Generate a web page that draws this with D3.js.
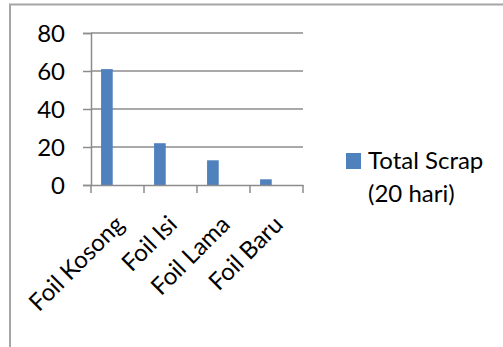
<!DOCTYPE html>
<meta charset="utf-8">
<style>
body{
	margin:0;
	background:#fff;
}
svg text{
	font-family:Lato, "Open Sans", sans-serif;
	fill:#000;
}
</style>
<script src="https://cdn.jsdelivr.net/npm/d3@7"></script>
<div id="chart"></div>

<script>

var categories = ["Foil Kosong","Foil Isi","Foil Lama","Foil Baru"]
var scrapValues = [61,22,13,3]
var yTicks = [0,20,40,60,80]
var seriesName = ["Total Scrap","(20 hari)"]

var W = 503, H = 347
var fs = "24px"
var svg = d3.select("#chart").append("svg").attr("width",W).attr("height",H)

// frame, cut off at right and bottom like the screenshot
svg.append("path")
	.attr("d","M10,"+(H+2)+" V4.5 H"+(W+2))
	.attr("fill","none").attr("stroke","#a6a6a6").attr("stroke-width",2)

var x = d3.scaleBand().domain(categories).range([91,303])
var y = d3.scaleLinear().domain([0,80]).range([185,33])

var grid = "#8c8c8c"

// gridlines + y ticks
var yAxis = d3.axisLeft(y).tickValues(yTicks).tickSize(8).tickPadding(18)
var gy = svg.append("g").attr("transform","translate(91,0)").call(yAxis)
gy.select(".domain").attr("stroke",grid).attr("stroke-width",1.5)
gy.selectAll(".tick line").attr("stroke",grid).attr("stroke-width",1.5)
gy.selectAll(".tick text").attr("font-size",fs).attr("fill","#000")
	.style("font-family","Lato").attr("dy","0.36em")

svg.append("g").selectAll("line").data(yTicks.filter(function(d){return d>0}))
	.enter().append("line")
	.attr("x1",91).attr("x2",303)
	.attr("y1",function(d){return y(d)}).attr("y2",function(d){return y(d)})
	.attr("stroke",grid).attr("stroke-width",1.5)

// bars (first slot of a clustered group)
var bw = x.bandwidth()
svg.append("g").selectAll("rect").data(scrapValues).enter().append("rect")
	.attr("x",function(d,i){return x(categories[i])+bw*0.19})
	.attr("width",bw*0.22)
	.attr("y",function(d){return y(d)})
	.attr("height",function(d){return y(0)-y(d)})
	.attr("fill","#4f81bd")

// x axis
var xAxis = d3.axisBottom(x).tickSize(0).tickFormat("")
var gx = svg.append("g").attr("transform","translate(0,185)").call(xAxis)
gx.select(".domain").attr("stroke",grid).attr("stroke-width",1.5)
var edges = categories.map(function(c){return x(c)}).concat([303])
gx.selectAll(".edge").data(edges).enter().append("line")
	.attr("x1",function(d){return d}).attr("x2",function(d){return d})
	.attr("y1",0).attr("y2",8).attr("stroke",grid).attr("stroke-width",1.5)

svg.append("g").selectAll("text").data(categories).enter().append("text")
	.attr("transform",function(c){return "translate("+(x(c)+bw/2+8)+",226) rotate(-45)"})
	.attr("text-anchor","end")
	.attr("font-size",fs)
	.text(function(c){return c})

// legend
svg.append("rect").attr("x",346).attr("y",153).attr("width",15).attr("height",16).attr("fill","#4f81bd")
svg.append("g").selectAll("text").data(seriesName).enter().append("text")
	.attr("x",368).attr("y",function(d,i){return 169+i*33})
	.attr("font-size",fs)
	.text(function(d){return d})

</script>
